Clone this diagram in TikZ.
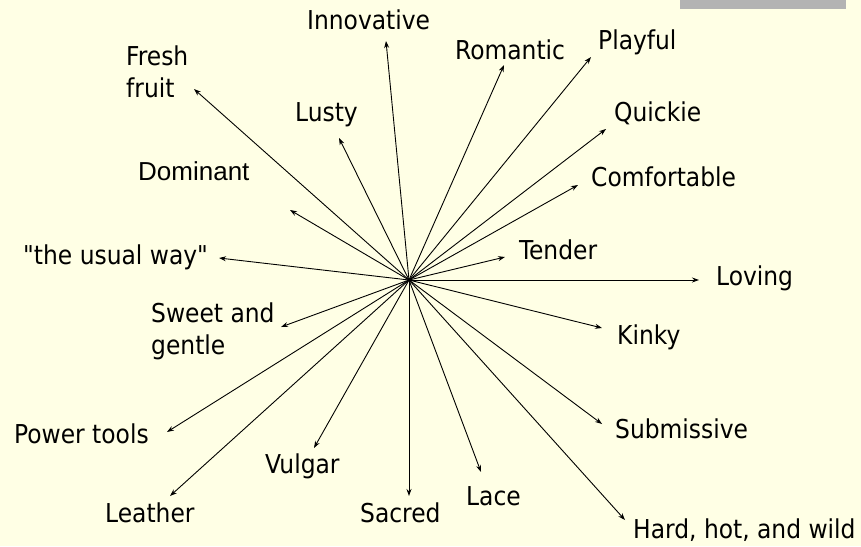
\documentclass[tikz,border=0pt]{standalone}
\usepackage{fontspec}
\setmainfont{DejaVu Sans Condensed}[Ligatures=TeXReset]
\newfontfamily\arialfont{Liberation Sans}
\usetikzlibrary{arrows.meta}
\definecolor{paper}{RGB}{255,255,229}
\definecolor{tabgray}{RGB}{179,179,179}
\tikzset{
  word/.style={anchor=west,inner sep=0pt,font=\fontsize{26}{32}\selectfont,align=left},
  ray/.style={-{Stealth[length=7pt,width=5pt]},line width=0.9pt}
}

\begin{document}
\begin{tikzpicture}[x=1pt,y=-1pt]
% page, 861x546, y runs downwards
\fill[paper] (0,0) rectangle (861,546);
\useasboundingbox (0,0) rectangle (861,546);
\fill[tabgray] (680,0) rectangle (846,9);
\coordinate (o) at (409,280);
% words round the star
\node[word] (inno) at (307,20) {Innovative};
\node[word] (rom) at (455,50) {Romantic};
\node[word] (play) at (598,42) {Playful};
\node[word] (quick) at (614,113) {Quickie};
\node[word] (comf) at (591,177) {Comfortable};
\node[word] (tend) at (519,250) {Tender};
\node[word] (lov) at (716,278) {Loving};
\node[word] (kink) at (617,337) {Kinky};
\node[word] (sub) at (615,429) {Submissive};
\node[word] (hard) at (633,530) {Hard, hot, and wild};
\node[word] (lace) at (466,496) {Lace};
\node[word] (sacr) at (360,513) {Sacred};
\node[word] (vulg) at (265,466) {Vulgar};
\node[word] (leath) at (105,513) {Leather};
\node[word] (power) at (14,434) {Power tools};
\node[word] (sweet) at (151,331) {Sweet and\\gentle};
\node[word] (usual) at (23,257) {"the usual way"};
\node[word,font=\arialfont\fontsize{26}{32}\selectfont] (dom) at (138,171) {Dominant};
\node[word] (fresh) at (126,72) {Fresh\\fruit};
\node[word] (lusty) at (295,115) {Lusty};
% arrow ends
\coordinate (t-inno) at (386,41);
\coordinate (t-rom) at (504,65);
\coordinate (t-play) at (591,57);
\coordinate (t-quick) at (606,129);
\coordinate (t-comf) at (578,185);
\coordinate (t-tend) at (505,257);
\coordinate (t-lov) at (699,280);
\coordinate (t-kink) at (602,328);
\coordinate (t-sub) at (602,424);
\coordinate (t-hard) at (625,520);
\coordinate (t-lace) at (481,472);
\coordinate (t-sacr) at (409,496);
\coordinate (t-vulg) at (314,448);
\coordinate (t-leath) at (170,496);
\coordinate (t-power) at (167,432);
\coordinate (t-sweet) at (281,327);
\coordinate (t-usual) at (219,258);
\coordinate (t-dom) at (290,210);
\coordinate (t-fresh) at (194,89);
\coordinate (t-lusty) at (339,138);
\foreach \n in {inno,rom,play,quick,comf,tend,lov,kink,sub,hard,lace,sacr,vulg,leath,power,sweet,usual,dom,fresh,lusty}
  \draw[ray] (o) -- (t-\n);
\end{tikzpicture}
\end{document}
